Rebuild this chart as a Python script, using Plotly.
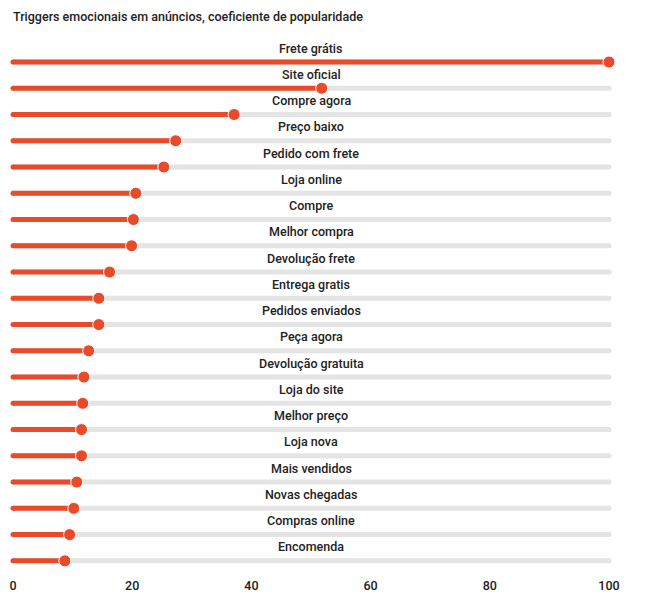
import plotly.graph_objects as go

title = "Triggers emocionais em anúncios, coeficiente de popularidade"
categories = ["Frete grátis", "Site oficial", "Compre agora", "Preço baixo", "Pedido com frete",
              "Loja online", "Compre", "Melhor compra", "Devolução frete", "Entrega gratis",
              "Pedidos enviados", "Peça agora", "Devolução gratuita", "Loja do site", "Melhor preço",
              "Loja nova", "Mais vendidos", "Novas chegadas", "Compras online", "Encomenda"]
values = [100, 51.8, 37.1, 27.3, 25.3, 20.6, 20.2, 19.9, 16.2, 14.4,
          14.4, 12.7, 11.9, 11.7, 11.5, 11.5, 10.7, 10.2, 9.5, 8.7]
max_value = 100
tick_values = [0, 20, 40, 60, 80, 100]

RED = "#E84A2A"
GRAY = "#E4E4E4"
FONT = "Roboto"

rows = list(range(len(categories)))

gx, gy, rx, ry = [], [], [], []
for i, v in zip(rows, values):
    gx += [0, max_value, None]
    gy += [i, i, None]
    rx += [0, v, None]
    ry += [i, i, None]

fig = go.Figure()
fig.add_trace(go.Scatter(x=gx, y=gy, mode="lines", line=dict(color=GRAY, width=5),
                         hoverinfo="skip", showlegend=False, cliponaxis=False))
fig.add_trace(go.Scatter(x=[max_value] * len(rows), y=rows, mode="markers",
                         marker=dict(color=GRAY, size=5, line=dict(width=0)),
                         hoverinfo="skip", showlegend=False, cliponaxis=False))
fig.add_trace(go.Scatter(x=[0] * len(rows), y=rows, mode="markers",
                         marker=dict(color=RED, size=5, line=dict(width=0)),
                         hoverinfo="skip", showlegend=False, cliponaxis=False))
fig.add_trace(go.Scatter(x=rx, y=ry, mode="lines", line=dict(color=RED, width=5),
                         hoverinfo="skip", showlegend=False, cliponaxis=False))
fig.add_trace(go.Scatter(x=values, y=rows, mode="markers",
                         marker=dict(color=RED, size=12, line=dict(color="white", width=1)),
                         text=categories, hovertemplate="%{text}: %{x}<extra></extra>",
                         showlegend=False, cliponaxis=False))

for i, c in zip(rows, categories):
    fig.add_annotation(x=max_value / 2, y=i, text=c, showarrow=False, yshift=14,
                       font=dict(family=FONT, size=12.5, color="#222", weight=500))

fig.update_layout(
    width=646, height=611,
    margin=dict(l=13, r=37, t=41, b=37, autoexpand=False),
    paper_bgcolor="white", plot_bgcolor="white",
    title=dict(text=title, x=0, xref="paper", xanchor="left", y=1, yref="container",
               yanchor="top", pad=dict(t=12, l=0),
               font=dict(family=FONT, size=12.5, color="#222", weight=500)),
    xaxis=dict(range=[0, max_value], tickvals=tick_values, showgrid=False, zeroline=False,
               showline=False, ticks="", automargin=False, ticklabelstandoff=2,
               tickfont=dict(family=FONT, size=12.5, color="#222", weight=500),
               fixedrange=True),
    yaxis=dict(range=[len(rows) - 1 + 0.5, -0.8], showgrid=False, zeroline=False,
               showticklabels=False, showline=False, automargin=False, fixedrange=True),
)

fig.write_html("out.html", config={"displayModeBar": False},
               post_script="document.body.style.margin='0';")
